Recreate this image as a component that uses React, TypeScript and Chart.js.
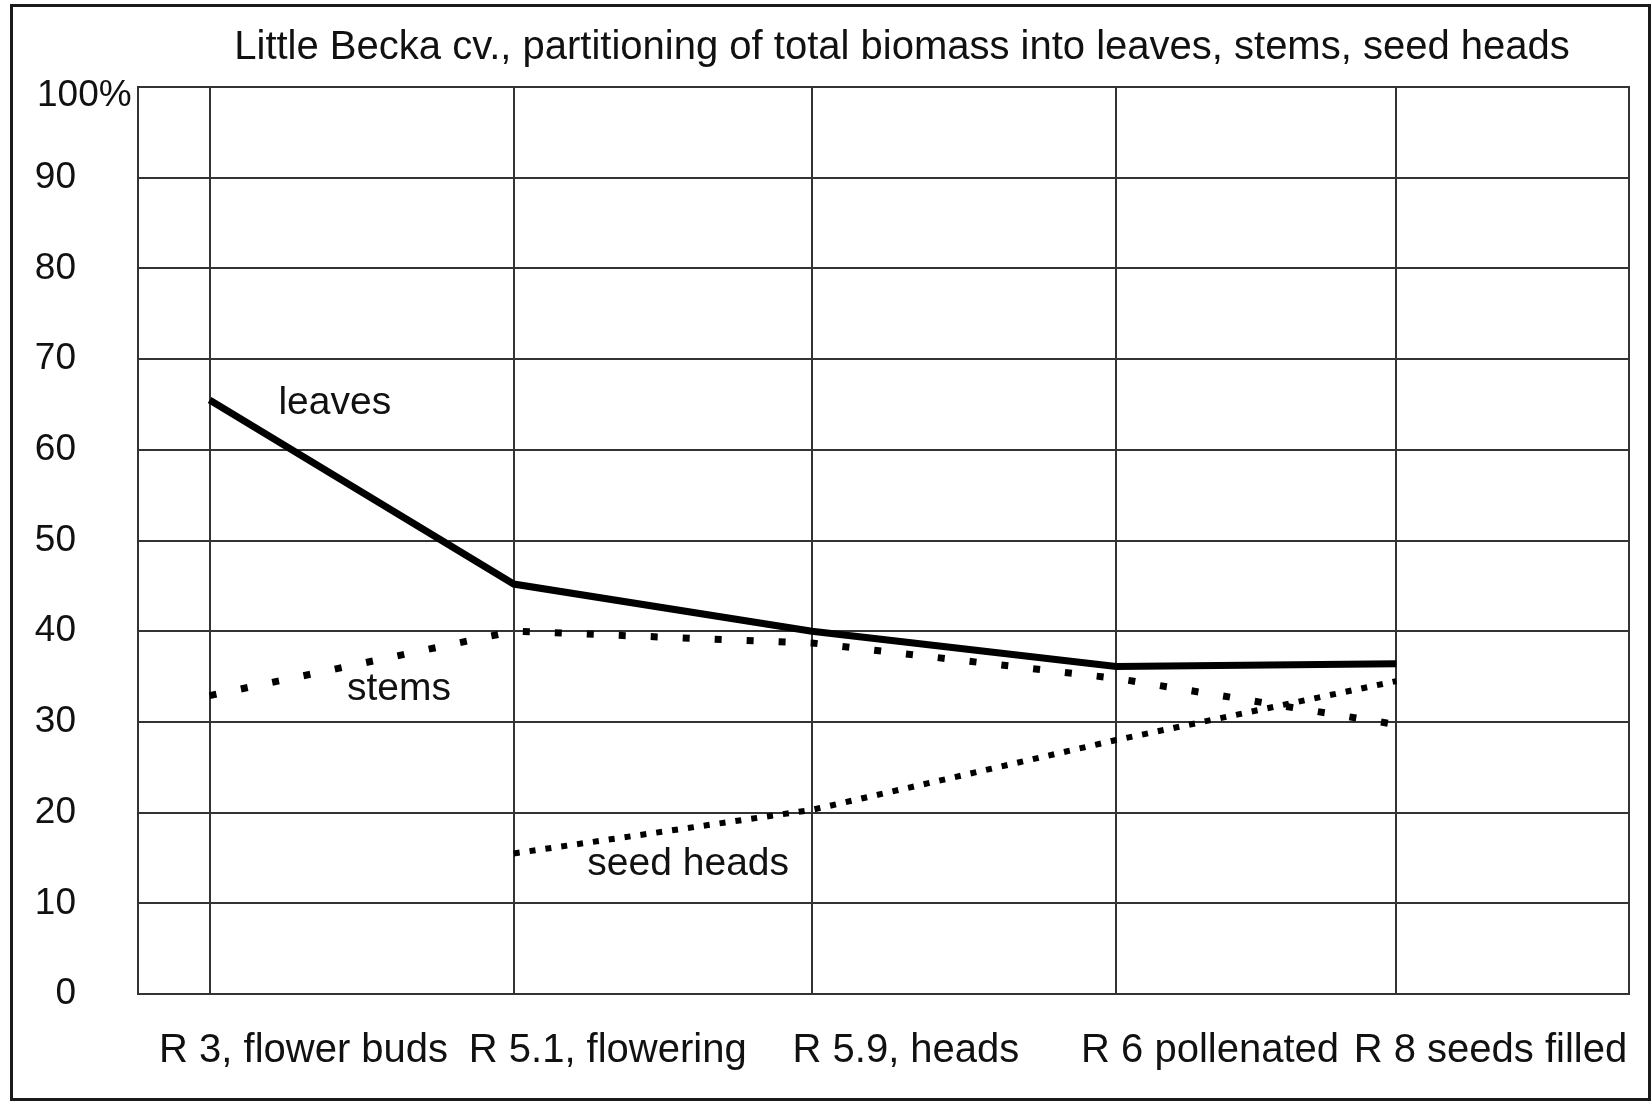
import React, { useEffect, useRef } from 'react';
import { Chart, registerables } from 'chart.js';

Chart.register(...registerables);

// ---- data ----
const TITLE = 'Little Becka cv., partitioning of total biomass into leaves, stems, seed heads';
const stageLabels = ['R 3, flower buds', 'R 5.1, flowering', 'R 5.9, heads', 'R 6 pollenated', 'R 8 seeds filled'];
const stagePositions = [0.24, 1.26, 2.26, 3.28, 4.22];
const leaves = [65.5, 45.2, 40.0, 36.1, 36.4];
const stems = [32.9, 40.0, 38.7, 34.8, 29.7];
const seedHeads: (number | null)[] = [null, 15.5, 20.3, 28.0, 34.5];
const yTickValues = [0, 10, 20, 30, 40, 50, 60, 70, 80, 90, 100];
const seriesNames = ['leaves', 'stems', 'seed heads'];
const seriesLabelX = [0.66, 0.875, 1.845];
const seriesLabelY = [64.0, 32.4, 13.1];

const FONT = '"Liberation Sans", Arial, sans-serif';
const GRID = '#333333';
const TEXT = '#111111';

function toPoints(arr: (number | null)[]) {
  return stagePositions
    .map((x, i) => ({ x, y: arr[i] }))
    .filter((p) => p.y !== null) as { x: number; y: number }[];
}

const decorPlugin = {
  id: 'decor',
  beforeDatasetsDraw(chart: any) {
    const { ctx, chartArea } = chart;
    ctx.save();
    ctx.strokeStyle = GRID;
    ctx.lineWidth = 2;
    ctx.strokeRect(chartArea.left, chartArea.top, chartArea.right - chartArea.left, chartArea.bottom - chartArea.top);
    ctx.restore();
  },
  afterDraw(chart: any) {
    const { ctx, scales } = chart;
    const xs = scales.x;
    const ys = scales.y;
    ctx.save();
    ctx.fillStyle = TEXT;
    // title
    ctx.font = `40px ${FONT}`;
    ctx.textAlign = 'center';
    ctx.textBaseline = 'alphabetic';
    ctx.fillText(TITLE, 902, 59);
    // series labels
    ctx.font = `39px ${FONT}`;
    seriesNames.forEach((name, i) => {
      ctx.fillText(name, xs.getPixelForValue(seriesLabelX[i]), ys.getPixelForValue(seriesLabelY[i]));
    });
    // 100% label
    ctx.font = `37px ${FONT}`;
    ctx.textAlign = 'left';
    ctx.textBaseline = 'middle';
    ctx.fillText('100%', 37, ys.getPixelForValue(100) + 9);
    ctx.restore();
  },
};

export default function App() {
  const canvasRef = useRef<HTMLCanvasElement | null>(null);

  useEffect(() => {
    const canvas = canvasRef.current;
    if (!canvas) return;
    const chart = new Chart(canvas, {
      type: 'line',
      data: {
        datasets: [
          {
            label: 'leaves',
            data: toPoints(leaves),
            borderColor: '#000',
            borderWidth: 7,
            borderCapStyle: 'butt',
            pointRadius: 0,
            tension: 0,
            fill: false,
          },
          {
            label: 'stems',
            data: toPoints(stems),
            borderColor: '#000',
            borderWidth: 7,
            borderDash: [7, 25],
            borderCapStyle: 'butt',
            pointRadius: 0,
            tension: 0,
            fill: false,
          },
          {
            label: 'seed heads',
            data: toPoints(seedHeads),
            borderColor: '#000',
            borderWidth: 6,
            borderDash: [6, 10],
            borderCapStyle: 'butt',
            pointRadius: 0,
            tension: 0,
            fill: false,
          },
        ],
      },
      options: {
        responsive: false,
        animation: false,
        devicePixelRatio: 1,
        layout: { padding: { top: 87, right: 22, bottom: 0, left: 0 } },
        plugins: {
          legend: { display: false },
          title: { display: false },
          tooltip: { enabled: false },
        },
        scales: {
          x: {
            type: 'linear',
            min: 0,
            max: 5,
            afterBuildTicks: (scale: any) => {
              scale.ticks = stagePositions.map((v) => ({ value: v }));
            },
            afterFit: (scale: any) => {
              scale.height = 107;
            },
            ticks: {
              autoSkip: false,
              maxRotation: 0,
              minRotation: 0,
              padding: 33,
              labelOffset: 94,
              color: TEXT,
              font: { family: FONT, size: 40 },
              callback: (_v: any, i: number) => stageLabels[i],
            },
            grid: { color: GRID, lineWidth: 2, drawTicks: false },
            border: { display: true, color: GRID, width: 2 },
          },
          y: {
            type: 'linear',
            min: 0,
            max: 100,
            afterBuildTicks: (scale: any) => {
              scale.ticks = yTickValues.map((v) => ({ value: v }));
            },
            afterFit: (scale: any) => {
              scale.width = 138;
            },
            ticks: {
              padding: 62,
              color: TEXT,
              font: { family: FONT, size: 37 },
              callback: (v: any) => (v === 100 ? '' : String(v)),
            },
            grid: { color: GRID, lineWidth: 2, drawTicks: false },
            border: { display: true, color: GRID, width: 2 },
          },
        },
      },
      plugins: [decorPlugin],
    } as any);
    return () => chart.destroy();
  }, []);

  return (
    <div style={{ position: 'fixed', left: 0, top: 0, width: 1651, height: 1101, background: '#fff' }}>
      <div
        style={{
          position: 'absolute',
          left: 10,
          top: 4,
          width: 1641,
          height: 1097,
          boxSizing: 'border-box',
          border: '3px solid #1a1a1a',
        }}
      />
      <canvas
        ref={canvasRef}
        width={1651}
        height={1101}
        style={{ position: 'absolute', left: 0, top: 0, width: 1651, height: 1101 }}
      />
    </div>
  );
}
